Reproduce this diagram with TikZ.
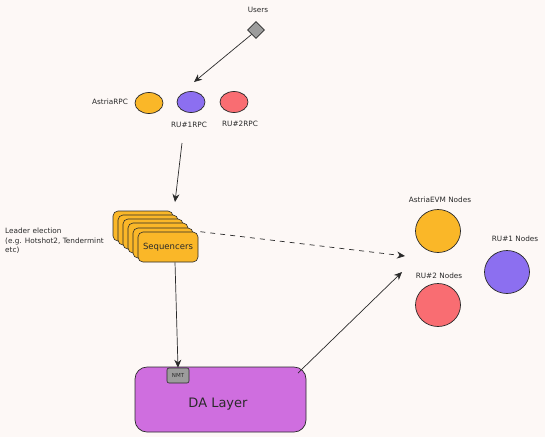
\documentclass[tikz,border=0pt]{standalone}
\usepackage{fontspec}
\setmainfont{DejaVu Sans}
\usetikzlibrary{arrows.meta,shapes.geometric}
\definecolor{bg}{HTML}{FDF8F6}
\definecolor{cyellow}{HTML}{FAB728}
\definecolor{cpurple}{HTML}{8C6FF0}
\definecolor{cred}{HTML}{F96D72}
\definecolor{cda}{HTML}{CF6EDF}
\definecolor{cgray}{HTML}{9C9C9C}
\definecolor{ink}{HTML}{2A2A2A}
\tikzset{
  lbl/.style={font=\fontsize{7.3}{9.5}\selectfont, text=ink, inner sep=0pt},
  blob/.style={ellipse, draw=ink, line width=0.7pt, inner sep=0pt},
  seqbox/.style={rounded corners=5pt, draw=ink, line width=0.6pt, fill=cyellow, minimum width=60pt, minimum height=30pt},
  conn/.style={draw=ink, line width=0.7pt, -{Stealth[length=8pt,width=7pt]}},
}
\begin{document}
\begin{tikzpicture}[x=1pt,y=-1pt]
\fill[bg] (0,0) rectangle (545,437);
\useasboundingbox (0,0) rectangle (545,437);

% Users
\node[lbl] (userslbl) at (258,10) {Users};
\node[diamond, draw=ink, line width=0.7pt, fill=cgray, minimum width=17pt, minimum height=17pt, inner sep=0pt] (users) at (256,30) {};

% RPCs
\node[lbl] (astriarpclbl) at (110,102) {AstriaRPC};
\node[blob, fill=cyellow, minimum width=28pt, minimum height=21pt] (astriarpc) at (149,103) {};
\node[blob, fill=cpurple, minimum width=28pt, minimum height=21pt] (ru1rpc) at (191,102) {};
\node[blob, fill=cred, minimum width=28pt, minimum height=21pt] (ru2rpc) at (234,102) {};
\node[lbl] (ru1rpclbl) at (189,125) {RU\#1RPC};
\node[lbl] (ru2rpclbl) at (240,124) {RU\#2RPC};

\coordinate (rpctip) at (194,82);
\draw[conn] (users.south west) -- (rpctip);

% Sequencers stack
\node[seqbox] (s6) at (143,226) {};
\node[seqbox] (s5) at (148,230) {};
\node[seqbox] (s4) at (153,234) {};
\node[seqbox] (s3) at (158,238) {};
\node[seqbox] (s2) at (163,243) {};
\node[seqbox, font=\fontsize{8.5}{10}\selectfont, text=ink] (seq) at (168,247) {Sequencers};

\node[lbl, align=left, anchor=north west] (leader) at (5,228) {Leader election\\(e.g. Hotshot2, Tendermint\\etc)};

\coordinate (seqtip) at (175,202);
\draw[conn] (182,143) -- (seqtip);

% Nodes
\node[lbl] (astriaevmlbl) at (440,200) {AstriaEVM Nodes};
\node[blob, fill=cyellow, minimum width=45pt, minimum height=43pt] (astriaevm) at (438,231) {};
\node[lbl] (ru1lbl) at (515,239) {RU\#1 Nodes};
\node[blob, fill=cpurple, minimum width=45pt, minimum height=43pt] (ru1) at (507,272) {};
\node[lbl] (ru2lbl) at (439,276) {RU\#2 Nodes};
\node[blob, fill=cred, minimum width=45pt, minimum height=43pt] (ru2) at (438,305) {};

\coordinate (dashtip) at (405,256);
\coordinate (datip) at (402,272);
\draw[conn, dash pattern=on 5pt off 5pt] ([xshift=2pt]seq.north east) -- (dashtip);

% DA layer
\node[rounded corners=12pt, draw=ink, line width=0.7pt, fill=cda, minimum width=171pt, minimum height=65pt] (da) at (220.5,399.5) {};
\node[font=\fontsize{13}{15}\selectfont, text=ink, inner sep=0pt] (dalbl) at (218,404) {DA Layer};
\node[rounded corners=2pt, draw=ink, line width=0.6pt, fill=cgray, minimum width=22pt, minimum height=15pt, inner sep=0pt, font=\fontsize{5.5}{6}\selectfont, text=ink] (nmt) at (178,375.5) {NMT};

\draw[conn] (seq.south -| 175,0) -- (nmt.north);
\draw[conn] (298,373) -- (datip);
\end{tikzpicture}
\end{document}
